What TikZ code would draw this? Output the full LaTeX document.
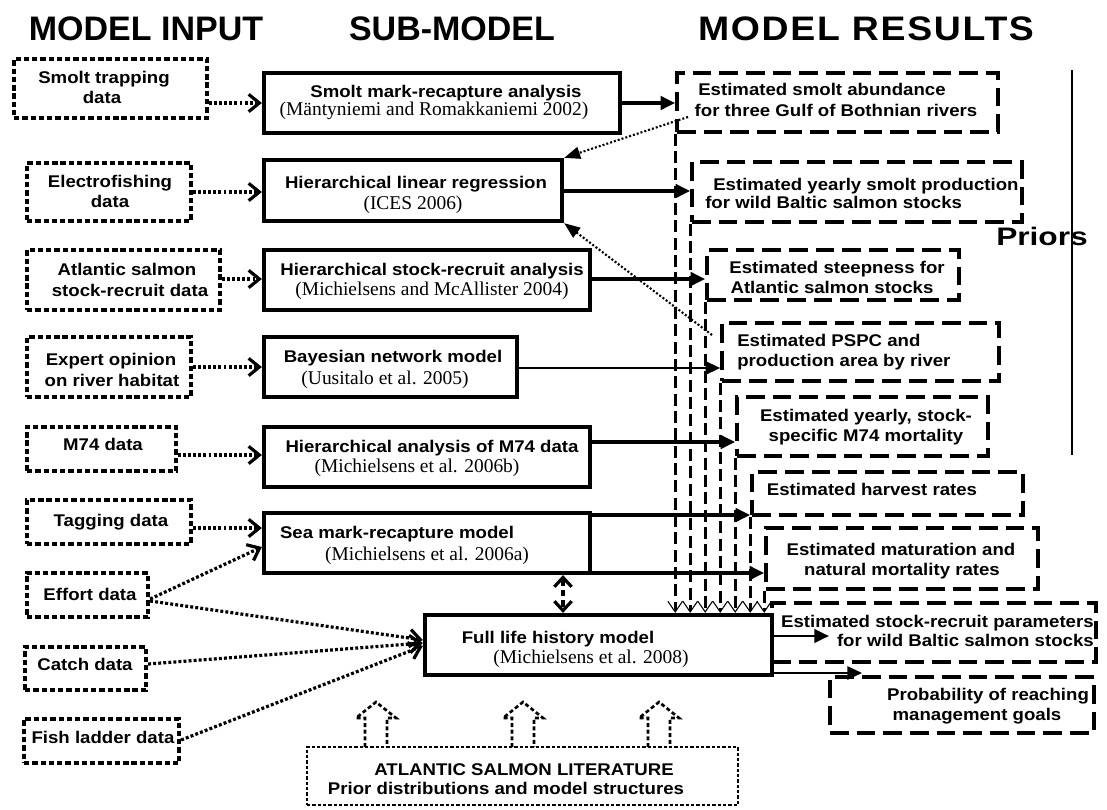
\documentclass[tikz,border=0pt]{standalone}
\usepackage{fontspec}
\setmainfont{Liberation Sans}
\newfontfamily\hfont{Liberation Sans}
\newfontfamily\hfontw{Liberation Sans}[FakeStretch=1.1,LetterSpace=5]
\newfontfamily\bsf{Liberation Sans}[FakeStretch=1.1]
\newfontfamily\psf{Liberation Sans}[FakeStretch=1.25]
\newfontfamily\cf{Liberation Serif}
\usetikzlibrary{arrows.meta,fit}
\tikzset{
  t/.style={font=\bsf\bfseries\fontsize{12.7}{15}\selectfont, anchor=base, inner sep=0pt},
  tw/.style={t, anchor=base west},
  te/.style={t, anchor=base east},
  tc/.style={font=\cf\fontsize{14.6}{15}\selectfont, anchor=base, inner sep=0pt},
  inbox/.style={draw, line width=3.2pt, dash pattern=on 4pt off 2.2pt, inner sep=0pt},
  subbox/.style={draw, line width=3.2pt, inner sep=0pt},
  resbox/.style={draw, line width=2.7pt, dash pattern=on 14pt off 6pt, inner sep=0pt},
  litbox/.style={draw, line width=2.2pt, dash pattern=on 2.5pt off 1.5pt, inner sep=0pt},
  inarr/.style={line width=2.4pt, dash pattern=on 2.2pt off 1.6pt, -{Straight Barb[length=8pt,width=13pt]}},
  outarr/.style={line width=2.8pt, -{Triangle[length=11pt,width=10pt]}},
  thinarr/.style={line width=1.6pt, -{Triangle[length=11pt,width=10pt]}},
  fbarr/.style={line width=1.6pt, dash pattern=on 1.5pt off 1.5pt, -{Triangle[length=12pt,width=9pt]}},
  vdash/.style={line width=2pt, dash pattern=on 9pt off 4pt, -{Straight Barb[length=8pt,width=11pt,line width'=0.8pt]}},
  dbl/.style={line width=2.4pt, dash pattern=on 5pt off 3pt, {Straight Barb[length=7pt,width=13pt]}-{Straight Barb[length=7pt,width=13pt]}},
  litarr/.style={line width=2pt, dash pattern=on 3pt off 2pt},
  head/.style={font=\hfont\bfseries\fontsize{25.5}{30}\selectfont, anchor=base, inner sep=0pt},
}
\begin{document}
\begin{tikzpicture}[x=0.75pt,y=-0.75pt]
\useasboundingbox (0,0) rectangle (1107,810);
% headings
\node[head] (h1) at (146,40) {MODEL INPUT};
\node[head] (h2) at (452,40) {SUB-MODEL};
\node[head, font=\hfontw\bfseries\fontsize{25.5}{30}\selectfont] (h3) at (866,40) {MODEL RESULTS};
\node[font=\psf\bfseries\fontsize{19}{22}\selectfont, anchor=base, inner sep=0pt] (pri) at (1042,245) {Priors};
\draw[line width=1.1pt] (1072,70) -- (1072,455);
% inputs
\node[inbox, fit={(14,59) (207,118)}] (in1) {};
\node[t] (in1a) at (104,83) {Smolt trapping};
\node[t] (in1b) at (102,103) {data};
\node[inbox, fit={(27,163) (191,221)}] (in2) {};
\node[t] (in2a) at (110,187) {Electrofishing};
\node[t] (in2b) at (110,207) {data};
\node[inbox, fit={(27,250) (220,310)}] (in3) {};
\node[t] (in3a) at (127,275) {Atlantic salmon};
\node[t] (in3b) at (130,296) {stock-recruit data};
\node[inbox, fit={(27,337) (191,397)}] (in4) {};
\node[t] (in4a) at (111,365) {Expert opinion};
\node[t] (in4b) at (112,386) {on river habitat};
\node[inbox, fit={(27,427) (176,471)}] (in5) {};
\node[t] (in5a) at (103,450) {M74 data};
\node[inbox, fit={(27,500) (191,544)}] (in6) {};
\node[t] (in6a) at (111,526) {Tagging data};
\node[inbox, fit={(27,573) (148,617)}] (in7) {};
\node[t] (in7a) at (90,600) {Effort data};
\node[inbox, fit={(25,647) (146,690)}] (in8) {};
\node[t] (in8a) at (85,670) {Catch data};
\node[inbox, fit={(24,719) (179,763)}] (in9) {};
\node[t] (in9a) at (103,743) {Fish ladder data};
% sub-models
\node[subbox, fit={(264,73) (620,133)}] (s1) {};
\node[t] (s1a) at (446,97) {Smolt mark-recapture analysis};
\node[tc] (s1b) at (434,115) {(Mäntyniemi and Romakkaniemi 2002)};
\node[subbox, fit={(264,160) (562,221)}] (s2) {};
\node[t] (s2a) at (416,188) {Hierarchical linear regression};
\node[tc] (s2b) at (413,209) {(ICES 2006)};
\node[subbox, fit={(264,250) (590,310)}] (s3) {};
\node[t] (s3a) at (432,275) {Hierarchical stock-recruit analysis};
\node[tc] (s3b) at (432,295) {(Michielsens and McAllister 2004)};
\node[subbox, fit={(264,337) (517,397)}] (s4) {};
\node[t] (s4a) at (393,362) {Bayesian network model};
\node[tc] (s4b) at (385,384) {(Uusitalo et al. 2005)};
\node[subbox, fit={(264,427) (590,487)}] (s5) {};
\node[t] (s5a) at (432,452) {Hierarchical analysis of M74 data};
\node[tc] (s5b) at (417,472) {(Michielsens et al. 2006b)};
\node[subbox, fit={(264,513) (590,573)}] (s6) {};
\node[t] (s6a) at (397,538) {Sea mark-recapture model};
\node[tc] (s6b) at (427,560) {(Michielsens et al. 2006a)};
\node[subbox, fit={(425,615) (772,675)}] (full) {};
\node[t] (fulla) at (558,643) {Full life history model};
\node[tc] (fullb) at (591,663) {(Michielsens et al. 2008)};
% results
\node[resbox, fit={(677,73) (998,132)}] (r1) {};
\node[t] (r1a) at (822,95) {Estimated smolt abundance};
\node[t] (r1b) at (836,116) {for three Gulf of Bothnian rivers};
\node[resbox, fit={(692,162) (1022,222)}] (r2) {};
\node[tw] (r2a) at (713,190) {Estimated yearly smolt production};
\node[tw] (r2b) at (705,208) {for wild Baltic salmon stocks};
\node[resbox, fit={(707,250) (959,300)}] (r3) {};
\node[t] (r3a) at (837,273) {Estimated steepness for};
\node[t] (r3b) at (832,293) {Atlantic salmon stocks};
\node[resbox, fit={(722,323) (999,381)}] (r4) {};
\node[tw] (r4a) at (737,346) {Estimated PSPC and};
\node[tw] (r4b) at (737,366) {production area by river};
\node[resbox, fit={(737,397) (988,456)}] (r5) {};
\node[t] (r5a) at (866,421) {Estimated yearly, stock-};
\node[t] (r5b) at (866,441) {specific M74 mortality};
\node[resbox, fit={(752,472) (1023,515)}] (r6) {};
\node[t] (r6a) at (872,495) {Estimated harvest rates};
\node[resbox, fit={(766,528) (1038,589)}] (r7) {};
\node[t] (r7a) at (901,555) {Estimated maturation and};
\node[t] (r7b) at (902,575) {natural mortality rates};
\node[resbox, fit={(772,603) (1096,662)}] (r8) {};
\node[te] (r8a) at (1094,627) {Estimated stock-recruit parameters};
\node[te] (r8b) at (1094,646) {for wild Baltic salmon stocks};
\node[resbox, fit={(830,677) (1094,733)}] (r9) {};
\node[t] (r9a) at (988,700) {Probability of reaching};
\node[t] (r9b) at (977,720) {management goals};
% literature
\node[litbox, fit={(307,747) (738,805)}] (lit) {};
\node[t] (lita) at (524,775) {ATLANTIC SALMON LITERATURE};
\node[t] (litb) at (506,794) {Prior distributions and model structures};
\foreach \c in {376,523,659}{
  \draw[litarr] (\c-11,747) -- (\c-11,718) -- (\c-20,718) -- (\c,702) -- (\c+20,718) -- (\c+11,718) -- (\c+11,747);
}
% input connectors
\draw[inarr] (in1.east |- 0,103) -- (s1.west |- 0,103);
\draw[inarr] (in2.east |- 0,192) -- (s2.west |- 0,192);
\draw[inarr] (in3.east |- 0,279) -- (s3.west |- 0,279);
\draw[inarr] (in4.east |- 0,367) -- (s4.west |- 0,367);
\draw[inarr] (in5.east |- 0,455) -- (s5.west |- 0,455);
\draw[inarr] (in6.east |- 0,528) -- (s6.west |- 0,528);
\draw[inarr] (in7.east |- 0,599) -- (s6.west |- 0,547);
\draw[inarr] (in7.east |- 0,601) -- (full.west |- 0,640);
\draw[inarr] (in8.east |- 0,664) -- (full.west |- 0,643);
\draw[inarr] (in9.east |- 0,740) -- (full.west |- 0,646);
% sub-model to results
\draw[outarr] (s1.east |- 0,103) -- (r1.west |- 0,103);
\draw[outarr] (s2.east |- 0,191) -- (r2.west |- 0,191);
\draw[outarr] (s3.east |- 0,279) -- (r3.west |- 0,279);
\draw[thinarr] (s4.east |- 0,368) -- (r4.west |- 0,368);
\draw[outarr] (s5.east |- 0,442) -- (r5.west |- 0,442);
\draw[outarr] (s6.east |- 0,515) -- (r6.west |- 0,515);
\draw[outarr] (s6.east |- 0,573) -- (r7.west |- 0,573);
\coordinate (r8tip) at (829,636);
\coordinate (r9tip) at (862,673);
\draw[outarr, line width=2.2pt] (full.east |- 0,636) -- (r8tip);
\draw[thinarr, line width=1.4pt] (full.east |- 0,673) -- (r9tip);
% results feeding the full model
\foreach \r in {r1,r2,r3,r4,r5,r6,r7}{
  \draw[vdash] (\r.south west) -- (\r.south west |- full.north);
}
% feedback
\coordinate (fb1) at (688,117);
\coordinate (fb2) at (712,335);
\draw[fbarr] (fb1) -- (s2.north east);
\draw[fbarr] (fb2) -- (s2.south east);
% sea <-> full
\draw[dbl] (s6.south -| 563,0) -- (full.north -| 563,0);
\end{tikzpicture}
\end{document}
